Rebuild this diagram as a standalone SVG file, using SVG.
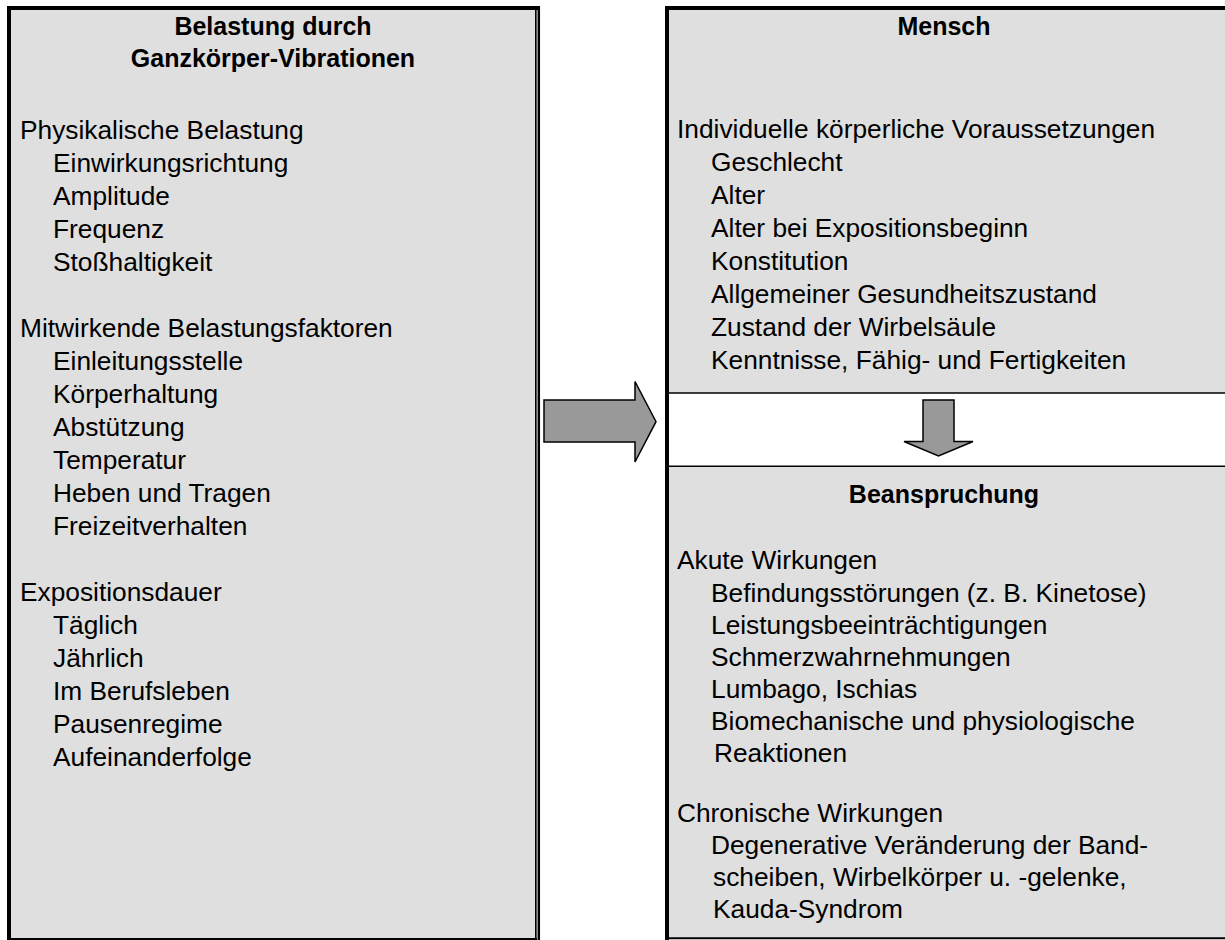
<svg xmlns="http://www.w3.org/2000/svg" width="1225" height="940" viewBox="0 0 1225 940">
<style>
.t{font-family:"Liberation Sans",Arial,sans-serif;font-size:26.3px;fill:#000}
.b{font-weight:bold;text-anchor:middle;font-size:25px}
.box{fill:#dfdfdf;stroke:none}
.ln{stroke:#000;fill:none}
.arr{fill:#999999;stroke:#000;stroke-width:1.5;stroke-linejoin:miter}
</style>
<rect width="1225" height="940" fill="#ffffff"/>
<g id="belastung">
<rect class="box" x="9" y="8" width="528" height="931"/>
<line class="ln" x1="7" y1="8" x2="540" y2="8" stroke-width="4"/>
<line class="ln" x1="9" y1="6" x2="9" y2="940" stroke-width="4"/>
<line class="ln" x1="9" y1="939" x2="537" y2="939" stroke-width="2"/>
<line class="ln" x1="535.8" y1="8" x2="535.8" y2="940" stroke-width="1.6"/>
<line class="ln" x1="538.8" y1="6" x2="538.8" y2="940" stroke-width="2.5"/>
<text class="t b" x="273" y="35">Belastung durch</text>
<text class="t b" x="273" y="66.5">Ganzkörper-Vibrationen</text>
<text class="t" x="20" y="138.5">Physikalische Belastung</text>
<text class="t" x="53" y="171.5">Einwirkungsrichtung</text>
<text class="t" x="53" y="204.5">Amplitude</text>
<text class="t" x="53" y="237.5">Frequenz</text>
<text class="t" x="53" y="270.5">Stoßhaltigkeit</text>
<text class="t" x="20" y="336.5">Mitwirkende Belastungsfaktoren</text>
<text class="t" x="53" y="369.5">Einleitungsstelle</text>
<text class="t" x="53" y="402.5">Körperhaltung</text>
<text class="t" x="53" y="435.5">Abstützung</text>
<text class="t" x="53" y="468.5">Temperatur</text>
<text class="t" x="53" y="501.5">Heben und Tragen</text>
<text class="t" x="53" y="534.5">Freizeitverhalten</text>
<text class="t" x="20" y="600.5">Expositionsdauer</text>
<text class="t" x="53" y="633.5">Täglich</text>
<text class="t" x="53" y="666.5">Jährlich</text>
<text class="t" x="53" y="699.5">Im Berufsleben</text>
<text class="t" x="53" y="732.5">Pausenregime</text>
<text class="t" x="53" y="765.5">Aufeinanderfolge</text>
</g>
<g id="mensch">
<rect class="box" x="667" y="8" width="558" height="385"/>
<line class="ln" x1="665" y1="8" x2="1225" y2="8" stroke-width="4"/>
<line class="ln" x1="667" y1="393" x2="1225" y2="393" stroke-width="1.6"/>
<text class="t b" x="944" y="35">Mensch</text>
<text class="t" x="677" y="138">Individuelle körperliche Voraussetzungen</text>
<text class="t" x="711" y="171">Geschlecht</text>
<text class="t" x="711" y="204">Alter</text>
<text class="t" x="711" y="237">Alter bei Expositionsbeginn</text>
<text class="t" x="711" y="270">Konstitution</text>
<text class="t" x="711" y="303">Allgemeiner Gesundheitszustand</text>
<text class="t" x="711" y="336">Zustand der Wirbelsäule</text>
<text class="t" x="711" y="369">Kenntnisse, Fähig- und Fertigkeiten</text>
</g>
<g id="beanspruchung">
<rect class="box" x="667" y="466" width="558" height="472"/>
<line class="ln" x1="667" y1="466.3" x2="1225" y2="466.3" stroke-width="1.6"/>
<line class="ln" x1="667" y1="938.3" x2="1225" y2="938.3" stroke-width="2"/>
<text class="t b" x="944" y="503">Beanspruchung</text>
<text class="t" x="677" y="569">Akute Wirkungen</text>
<text class="t" x="711" y="601.5">Befindungsstörungen (z. B. Kinetose)</text>
<text class="t" x="711" y="633.5">Leistungsbeeinträchtigungen</text>
<text class="t" x="711" y="665.5">Schmerzwahrnehmungen</text>
<text class="t" x="711" y="697.5">Lumbago, Ischias</text>
<text class="t" x="711" y="729.5">Biomechanische und physiologische</text>
<text class="t" x="714" y="761.5">Reaktionen</text>
<text class="t" x="677" y="822">Chronische Wirkungen</text>
<text class="t" x="711" y="854">Degenerative Veränderung der Band-</text>
<text class="t" x="713" y="886">scheiben, Wirbelkörper u. -gelenke,</text>
<text class="t" x="713" y="918">Kauda-Syndrom</text>
</g>
<g id="column-border">
<line class="ln" x1="667" y1="6" x2="667" y2="940" stroke-width="4"/>
</g>
<g id="connectors">
<polygon class="arr" points="544,400 635,400 635,381.5 656,421.7 635,462 635,442 544,442"/>
<polygon class="arr" points="923,400 954,400 954,441.5 973,441.5 938.5,456 904,441.5 923,441.5"/>
</g>
</svg>
